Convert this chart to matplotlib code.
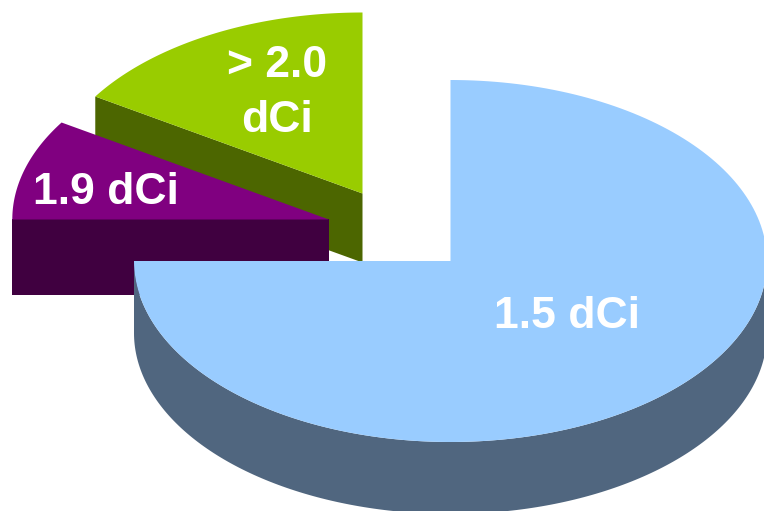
import numpy as np
import matplotlib
matplotlib.use("Agg")
import matplotlib.pyplot as plt
from matplotlib.patches import Polygon

labels = ["1.5 dCi", "> 2.0\ndCi", "1.9 dCi"]
shares = [75, 16, 9]

top_colors = ["#99CCFF", "#99CC00", "#800080"]
side_colors = ["#50667F", "#4C6600", "#400040"]
centers = [(450.5, 261), (362.5, 193.5), (328.8, 219.5)]
depths = [72, 69, 76]
label_pos = [(567, 316), (277, 93), (106, 193)]
RX, RY = 316.5, 181

fig = plt.figure(figsize=(7.64, 5.11), dpi=100)
ax = fig.add_axes([0, 0, 1, 1])
ax.set_xlim(0, 764)
ax.set_ylim(511, 0)
ax.axis("off")


def pt(c, deg):
    a = np.radians(deg)
    return c[0] + RX * np.cos(a), c[1] - RY * np.sin(a)


def arc(c, a0, a1, n=200):
    a = np.radians(np.linspace(a0, a1, n))
    return np.column_stack([c[0] + RX * np.cos(a), c[1] - RY * np.sin(a)])


# Angles run anticlockwise from the top for the small slices; the main slice takes the rest
t = 360 * np.array(shares) / sum(shares)
green = (90, 90 + t[1])
purple = (green[1], green[1] + t[2])
main = (purple[1], purple[1] + t[0])
spans = [main, green, purple]

for i in [1, 2, 0]:
    c, d, (a0, a1) = centers[i], depths[i], spans[i]
    # Outer side face (lower half of the rim only)
    lo, hi = max(a0, 180), min(a1, 360)
    if hi > lo:
        e = arc(c, lo, hi)
        ax.add_patch(Polygon(np.vstack([e, (e + [0, d])[::-1]]),
                             fc=side_colors[i], ec="none", zorder=2))
    # Radial side face of the small slices
    if i != 0:
        p = np.array(pt(c, a1))
        q = np.array(c, float)
        ax.add_patch(Polygon([p, q, q + [0, d], p + [0, d]],
                             fc=side_colors[i], ec="none", zorder=2))
    # Top face
    ax.add_patch(Polygon(np.vstack([[c], arc(c, a0, a1)]),
                         fc=top_colors[i], ec="none", zorder=2))

for s, (x, y) in zip(labels, label_pos):
    ax.text(x, y, s, color="white", fontsize=32, fontweight="bold",
            family="Liberation Sans", ha="center", va="center",
            linespacing=1.42, zorder=5)

fig.savefig("out.png", dpi=100)
